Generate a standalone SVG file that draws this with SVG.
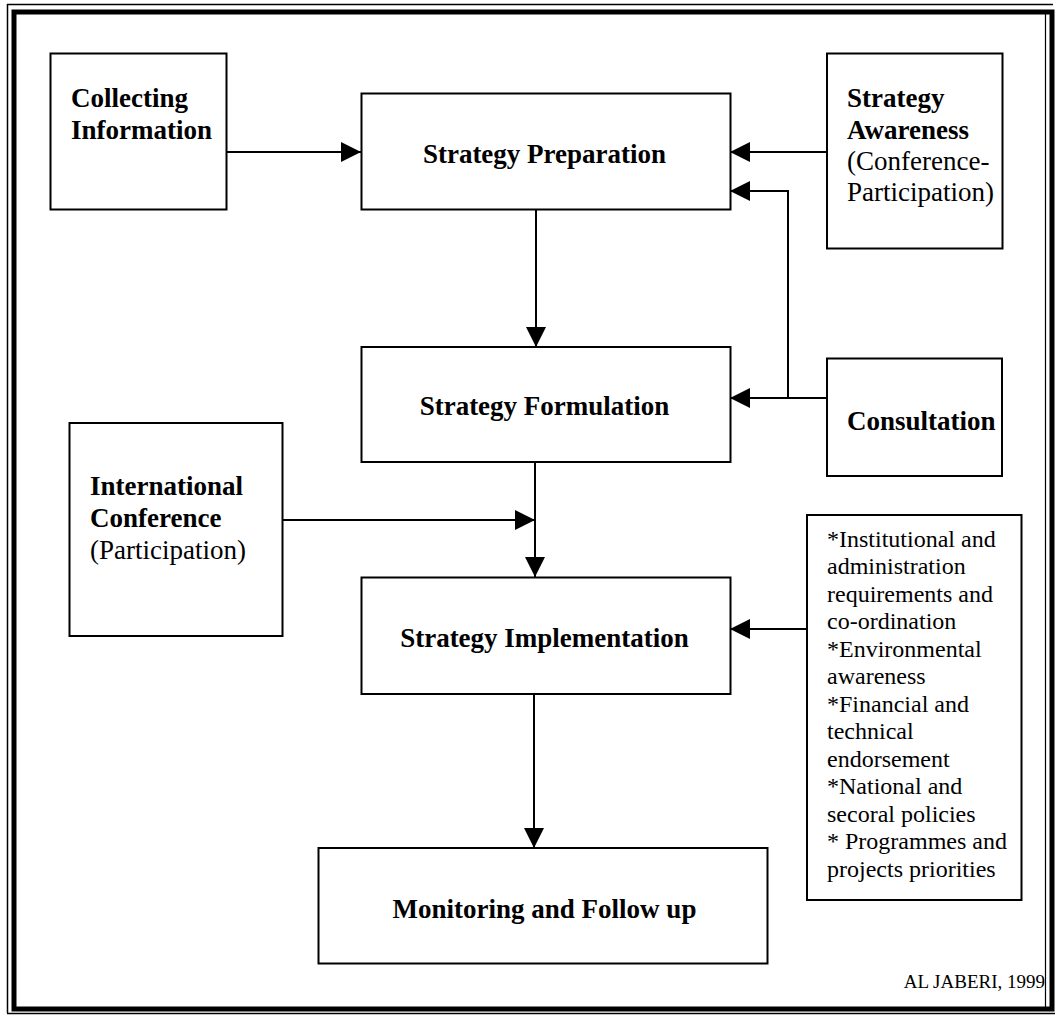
<svg xmlns="http://www.w3.org/2000/svg" width="1057" height="1016" viewBox="0 0 1057 1016">
  <style>
    .box { fill: #ffffff; stroke: #000000; stroke-width: 2; }
    .wire { fill: none; stroke: #000000; stroke-width: 2; }
    .frame { fill: none; stroke: #000000; }
    text { font-family: "Liberation Serif", "Times New Roman", serif; fill: #000000; }
    .b { font-size: 27px; font-weight: bold; }
    .r { font-size: 27px; }
    .list { font-size: 24px; }
    .credit { font-size: 19px; }
  </style>
  <defs>
    <marker id="arrow" markerUnits="userSpaceOnUse" markerWidth="20" markerHeight="20" refX="20" refY="10" orient="auto">
      <path d="M0,0 L20,10 L0,20 Z" fill="#000000"/>
    </marker>
  </defs>

  <rect width="1057" height="1016" fill="#ffffff"/>

  <!-- double border around the whole figure -->
  <g id="frame">
    <rect class="frame" x="14" y="12" width="1038" height="997" stroke-width="5"/>
    <line class="frame" x1="7.5" y1="4" x2="7.5" y2="1013" stroke-width="1.5"/>
    <line class="frame" x1="7" y1="4.5" x2="1053" y2="4.5" stroke-width="1.5"/>
    <line class="frame" x1="7" y1="1013.5" x2="1055" y2="1013.5" stroke-width="1.5"/>
    <line class="frame" x1="1045.5" y1="14" x2="1045.5" y2="1007" stroke-width="1.2"/>
  </g>

  <!-- connectors -->
  <g id="connectors">
    <path class="wire" d="M226,152 H361" marker-end="url(#arrow)"/>
    <path class="wire" d="M827,152 H730" marker-end="url(#arrow)"/>
    <path class="wire" d="M788,398 V191 H730" marker-end="url(#arrow)"/>
    <path class="wire" d="M827,398 H730" marker-end="url(#arrow)"/>
    <path class="wire" d="M536,210 V347" marker-end="url(#arrow)"/>
    <path class="wire" d="M535,462 V577" marker-end="url(#arrow)"/>
    <path class="wire" d="M283,520 H535" marker-end="url(#arrow)"/>
    <path class="wire" d="M807,629 H730" marker-end="url(#arrow)"/>
    <path class="wire" d="M534,694 V848" marker-end="url(#arrow)"/>
  </g>

  <g id="collecting-information">
    <rect class="box" x="50.5" y="53.5" width="176" height="156"/>
    <text class="b" x="71" y="107">Collecting</text>
    <text class="b" x="71" y="139">Information</text>
  </g>

  <g id="strategy-preparation">
    <rect class="box" x="361.5" y="93.5" width="369" height="116"/>
    <text class="b" x="544.5" y="163" text-anchor="middle">Strategy Preparation</text>
  </g>

  <g id="strategy-awareness">
    <rect class="box" x="827" y="53.5" width="175.5" height="195"/>
    <text class="b" x="847" y="107">Strategy</text>
    <text class="b" x="847" y="138.5">Awareness</text>
    <text class="r" x="847" y="170">(Conference-</text>
    <text class="r" x="847" y="201">Participation)</text>
  </g>

  <g id="strategy-formulation">
    <rect class="box" x="361.5" y="347" width="369" height="115"/>
    <text class="b" x="544.5" y="415" text-anchor="middle">Strategy Formulation</text>
  </g>

  <g id="consultation">
    <rect class="box" x="827" y="358.5" width="175" height="117.5"/>
    <text class="b" x="847" y="430">Consultation</text>
  </g>

  <g id="international-conference">
    <rect class="box" x="69.5" y="423" width="213" height="213"/>
    <text class="b" x="90" y="495">International</text>
    <text class="b" x="90" y="527">Conference</text>
    <text class="r" x="90" y="558.5">(Participation)</text>
  </g>

  <g id="strategy-implementation">
    <rect class="box" x="361.5" y="577.5" width="369" height="116.5"/>
    <text class="b" x="544.5" y="647" text-anchor="middle">Strategy Implementation</text>
  </g>

  <g id="requirements">
    <rect class="box" x="807" y="515" width="214.5" height="385"/>
    <text class="list" x="827" y="546.7">*Institutional and</text>
    <text class="list" x="827" y="574.2">administration</text>
    <text class="list" x="827" y="601.7">requirements and</text>
    <text class="list" x="827" y="629.2">co-ordination</text>
    <text class="list" x="827" y="656.7">*Environmental</text>
    <text class="list" x="827" y="684.2">awareness</text>
    <text class="list" x="827" y="711.7">*Financial and</text>
    <text class="list" x="827" y="739.2">technical</text>
    <text class="list" x="827" y="766.7">endorsement</text>
    <text class="list" x="827" y="794.2">*National and</text>
    <text class="list" x="827" y="821.7">secoral policies</text>
    <text class="list" x="827" y="849.2">* Programmes and</text>
    <text class="list" x="827" y="876.7">projects priorities</text>
  </g>

  <g id="monitoring">
    <rect class="box" x="318.5" y="848" width="449" height="115.5"/>
    <text class="b" x="544.5" y="917.5" text-anchor="middle">Monitoring and Follow up</text>
  </g>

  <g id="credit">
    <text class="credit" x="1045" y="988" text-anchor="end">AL JABERI, 1999</text>
  </g>
</svg>
